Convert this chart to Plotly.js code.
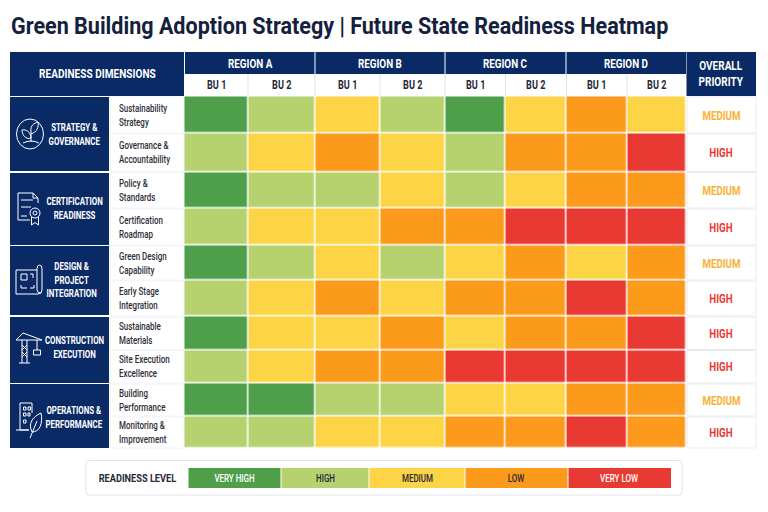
<!DOCTYPE html>
<html><head><meta charset="utf-8">
<script src="https://cdn.plot.ly/plotly-3.0.1.min.js"></script>
<style>html,body{margin:0;padding:0;background:#fff}#c{width:768px;height:512px}</style>
</head><body><div id="c"></div>
<script>
const chartTitle = 'Green Building Adoption Strategy | Future State Readiness Heatmap';
const regions = ['REGION A','REGION B','REGION C','REGION D'];
const units = ['BU 1','BU 2','BU 1','BU 2','BU 1','BU 2','BU 1','BU 2'];
const dimensions = ['STRATEGY &<br>GOVERNANCE','CERTIFICATION<br>READINESS','DESIGN &<br>PROJECT<br>INTEGRATION','CONSTRUCTION<br>EXECUTION','OPERATIONS &<br>PERFORMANCE'];
const subDimensions = ['Sustainability<br>Strategy','Governance &<br>Accountability','Policy &<br>Standards','Certification<br>Roadmap','Green Design<br>Capability','Early Stage<br>Integration','Sustainable<br>Materials','Site Execution<br>Excellence','Building<br>Performance','Monitoring &<br>Improvement'];
const priorities = ['MEDIUM','HIGH','MEDIUM','HIGH','MEDIUM','HIGH','HIGH','HIGH','MEDIUM','HIGH'];
const levels = ['VERY HIGH','HIGH','MEDIUM','LOW','VERY LOW'];
// readiness level per row: 1 very high ... 5 very low
const readiness = [
 [1,2,3,2,1,3,4,3],
 [2,3,4,3,2,4,4,5],
 [1,2,2,3,2,3,4,4],
 [2,3,3,4,4,5,5,5],
 [1,2,3,2,3,4,3,4],
 [2,3,4,3,4,4,5,4],
 [1,3,3,4,3,4,4,5],
 [2,3,4,4,5,5,5,5],
 [1,1,2,2,3,3,4,4],
 [2,2,3,3,4,4,5,4]
];

// ---- layout constants (page pixels) ----
const colEdges = [184.5,248,315,380,445,505.5,566.5,627,686];
const rowEdges = [96.5,133.5,172,208.5,245.5,280.5,316.5,350,383.5,416.5,448.5];
const groupEdges = [[97,171],[173,245],[246,315],[317,383],[384,448]];
const levelColors = ['#4F9F4A','#B5D26F','#FDD446','#FC9A1B','#E83A33'];
const legendEdges = [188.5,281,369,465,568,671.5];
const NAVY='#0A2A66', FONT='Roboto, sans-serif';

const colorscale = [];
levelColors.forEach((c,i)=>{colorscale.push([i/5,c]);colorscale.push([(i+1)/5,c]);});

const shapes=[], annotations=[], squeeze=[];
const rect=(x0,y0,x1,y1,fill,line,lw)=>shapes.push({type:'rect',xref:'x',yref:'y',x0,y0,x1,y1,fillcolor:fill,line:{color:line||fill,width:line?(lw||1):0},layer:'below'});
const txt=(x,y,text,size,color,sx,opt)=>{
  const o=opt||{};
  annotations.push({xref:'x',yref:'y',x,y,text,showarrow:false,xanchor:o.left?'left':'center',yanchor:'middle',align:o.left?'left':'center',borderpad:0,borderwidth:0,
    font:{family:FONT,size,color,weight:o.weight||400}});
  squeeze.push({sx,left:!!o.left});
};

// header
rect(10,52,184,96,NAVY);
rect(185,52,314.5,74,NAVY); rect(315.5,52,444.5,74,NAVY); rect(445.5,52,565.5,74,NAVY); rect(566.5,52,686,74,NAVY);
rect(686.5,52,756,96,NAVY);
txt(97,74,'<b>READINESS DIMENSIONS</b>',12,'#fff',0.84);
const regionCenters=[250,380,505,626];
regions.forEach((r,i)=>txt(regionCenters[i],63,'<b>'+r+'</b>',12.5,'#fff',0.79));
units.forEach((u,i)=>{
  txt((colEdges[i]+colEdges[i+1])/2,85,'<b>'+u+'</b>',12,'#1f2937',0.76);
  if(i>0) shapes.push({type:'line',xref:'x',yref:'y',x0:colEdges[i],x1:colEdges[i],y0:74,y1:96,line:{color:'#DDE1E8',width:1}});
});
txt(721,73.5,'<b>OVERALL<br>PRIORITY</b>',12.5,'#fff',0.8);

// left column
groupEdges.forEach(g=>rect(10,g[0],109,g[1],NAVY));
const dimPos=[[74,134],[74,208],[71,280],[74,347.5],[74,417]];
dimensions.forEach((d,i)=>txt(dimPos[i][0],dimPos[i][1],'<b>'+d+'</b>',10.5,'#fff',0.75));

// sub-dimensions & priority
subDimensions.forEach((s,i)=>{
  const yc=(rowEdges[i]+rowEdges[i+1])/2;
  txt(119,yc,s,10.5,'#2b2f38',0.76,{left:true,weight:500});
  txt(721,yc,'<b>'+priorities[i]+'</b>',12.5,priorities[i]==='HIGH'?'#E83A33':'#F9B233',0.78);
  rect(110,rowEdges[i]+0.5,184,rowEdges[i+1]-0.5,'#fff','#F3F4F7',1);
  rect(687,rowEdges[i]+0.5,756,rowEdges[i+1]-0.5,'#fff','#E9EBEF',1);
});

// icons (white outlines)
const ic=path=>shapes.push({type:'path',xref:'x',yref:'y',path,line:{color:'#fff',width:1},fillcolor:'rgba(0,0,0,0)',layer:'above'});
const ring=(x0,y0,x1,y1)=>shapes.push({type:'circle',xref:'x',yref:'y',x0,x1,y0,y1,line:{color:'#fff',width:1},fillcolor:'rgba(0,0,0,0)',layer:'above'});
// plant
ring(16.5,119,43.5,149);
ic('M31 142 L31 131 M23 143 Q31 139 39 143 M31 138 C26 140 22 135 22 130 C26 129 31 132 31 138 M31 131 C30 126 34 123 38 122 C39 127 37 132 31 134');
// certificate
ic('M38 203 L38 198 L33 193 L18 193 L18 220 L30 220 M33 193 L33 198 L38 198 M21 200 L33 200 M21 207 L31 207 M21 216 L27 216');
ring(30,208,40,218); ring(33,211,37,215);
ic('M31.5 217 L31.5 225 L35 222.5 L38.5 225 L38.5 217');
// blueprint
ic('M37 270 L16 270 L16 294 L38 294 Q42 294 42 290 L42 269 Q42 265 39.5 265 Q37 265 37 269 L37 290 Q37 293 41 293 M21 274 L27 274 L27 280 L21 280 Z M30 274 L33 274 L33 278 M21 285 L21 288 L27 288 M30 288 L34 288 L34 285');
// crane
ic('M22 340 L22 363 M27 340 L27 363 M22 345 L27 350 M27 345 L22 350 M22 352 L27 357 M27 352 L22 357 M19 363 L30 363 M16 340 L42 340 M16 340 L23 333 L42 340 M37 340 L37 350 M33.5 350 L40.5 350 L40.5 355 L33.5 355 Z');
// building with leaf
ic('M32 413 L32 403 L20 403 L20 430 L29 430 M16 430 L29 430 M23.5 407 L26 407 L26 410 L23.5 410 Z M28 407 L30.5 407 L30.5 410 L28 410 Z M23.5 413 L26 413 L26 416 L23.5 416 Z M28 413 L30 413 L30 416 L28 416 Z M23.5 420 L26 420 L26 423 L23.5 423 Z');
ic('M32 432 C28 424 32 417 41 413 C43 423 40 432 32 432 M30 438 L37 421');

// legend frame
shapes.push({type:'path',xref:'x',yref:'y',layer:'below',fillcolor:'#fff',line:{color:'#E3E6EB',width:1.2},
  path:'M90 460.5 L678 460.5 Q682 460.5 682 464.5 L682 491 Q682 495 678 495 L90 495 Q86 495 86 491 L86 464.5 Q86 460.5 90 460.5 Z'});
txt(137,478,'<b>READINESS LEVEL</b>',11.5,'#1f2937',0.8);
levels.forEach((l,i)=>{
  rect(legendEdges[i]+(i?0.5:0),468,legendEdges[i+1]-0.5,488,levelColors[i]);
  txt((legendEdges[i]+legendEdges[i+1])/2,478,l,10.5,(i===0||i===4)?'#fff':'#1f2937',0.76,{weight:500});
});

// title
txt(10.5,25,'<b>'+chartTitle+'</b>',24.5,'#14213D',0.88,{left:true});

const trace={type:'heatmap',x:colEdges,y:rowEdges,z:readiness,zmin:0.5,zmax:5.5,colorscale,showscale:false,xgap:1.5,ygap:1.5,hoverongaps:false};
Plotly.newPlot('c',[trace],{
  width:768,height:512,margin:{l:0,r:0,t:0,b:0},paper_bgcolor:'#fff',plot_bgcolor:'#fff',showlegend:false,
  xaxis:{range:[0,768],visible:false,fixedrange:true},
  yaxis:{range:[512,0],visible:false,fixedrange:true},
  shapes,annotations
},{displayModeBar:false,staticPlot:true}).then(gd=>{
  // the reference lettering is condensed: narrow each text horizontally about its anchor
  squeeze.forEach((q,i)=>{
    const t=gd.querySelector('.annotation[data-index="'+i+'"] text');
    if(!t) return;
    const b=t.getBBox(), ox=q.left?b.x:b.x+b.width/2;
    t.setAttribute('transform','translate('+ox+' 0) scale('+q.sx+' 1) translate('+(-ox)+' 0)');
  });
});
</script></body></html>
